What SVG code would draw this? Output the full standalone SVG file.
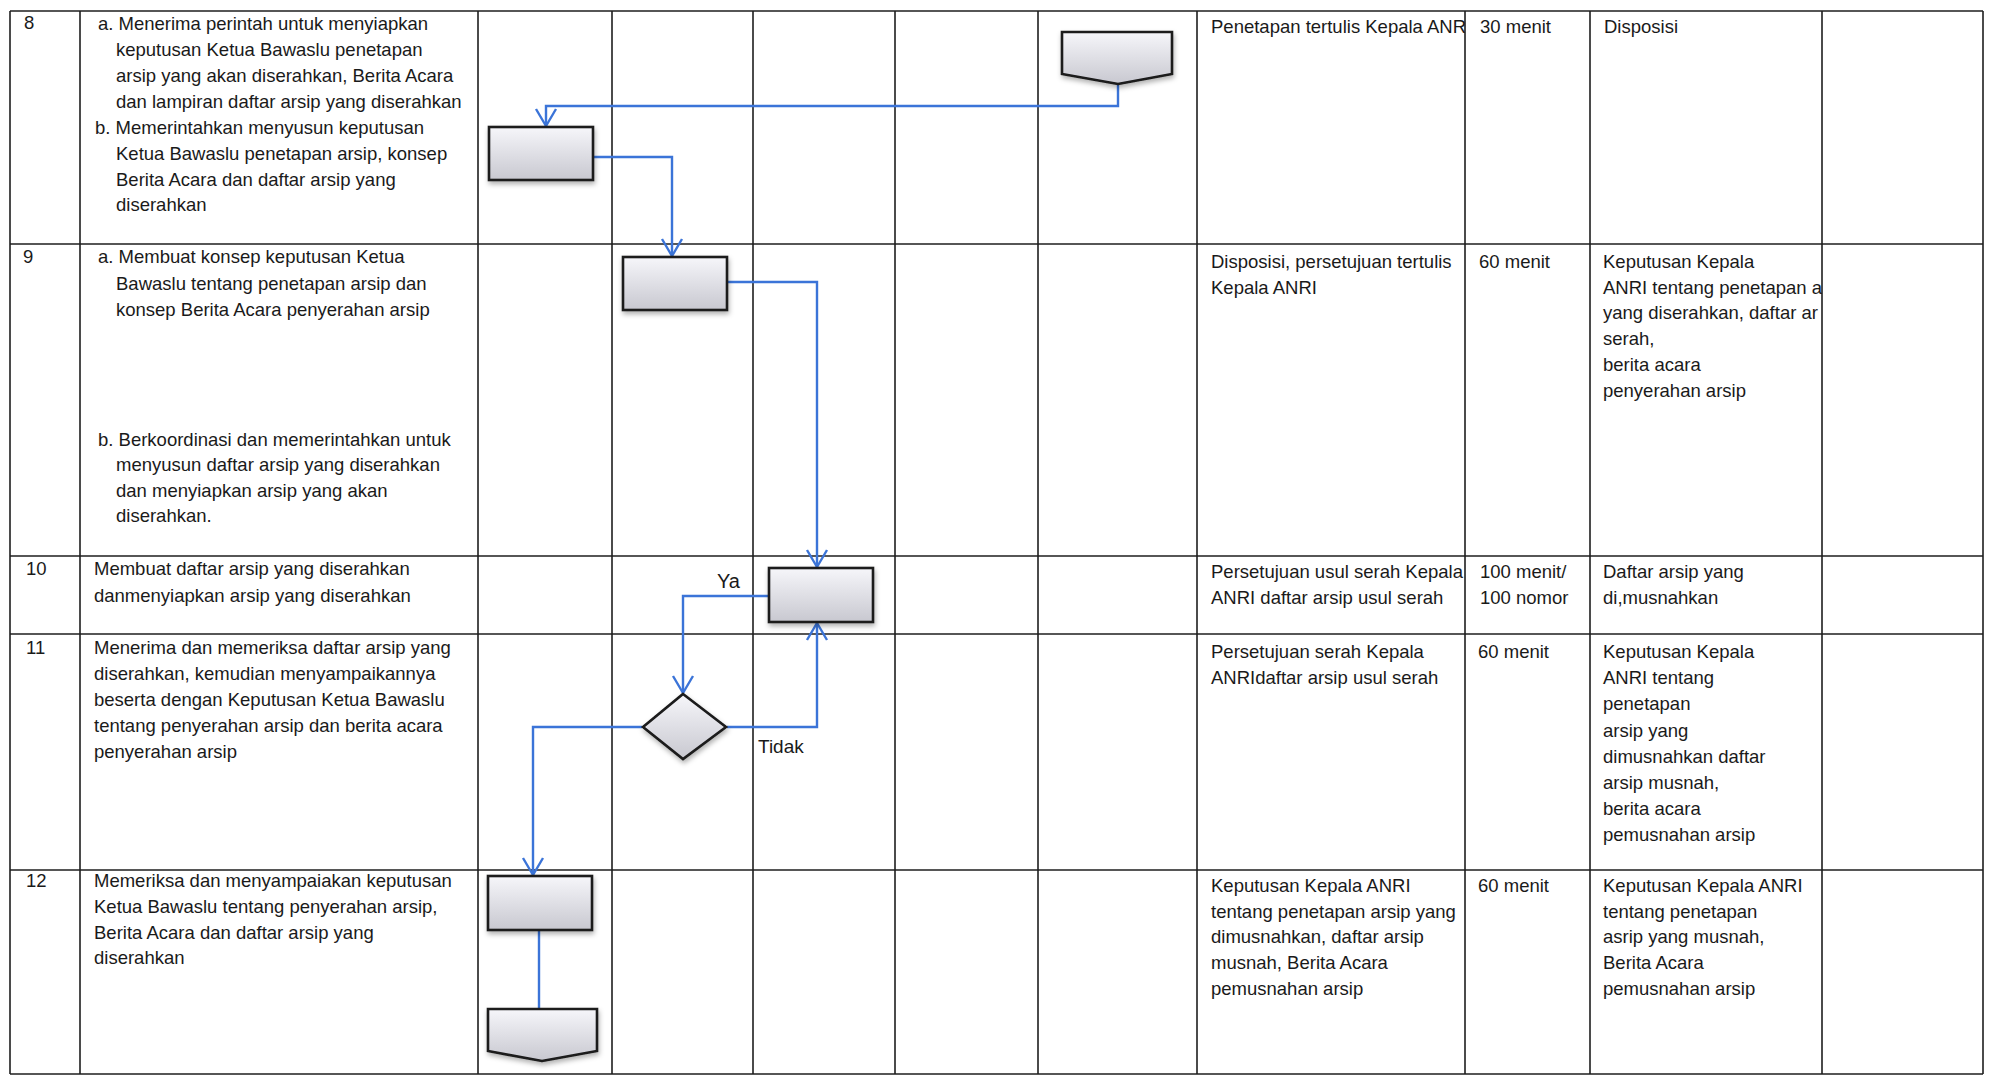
<svg xmlns="http://www.w3.org/2000/svg" width="1990" height="1076" viewBox="0 0 1990 1076">
<style>
.grid line{stroke:#1e1e1e;stroke-width:1.6}
text{font-family:"Liberation Sans",Arial,sans-serif;font-size:18.5px;fill:#1a1a1a}
.shape{fill:url(#g);stroke:#1a1a1a;stroke-width:2.6;filter:url(#sh)}
.con path{fill:none;stroke:#3b74d8;stroke-width:2.4}
.arr{marker-end:url(#ah)}
</style>
<defs>
<linearGradient id="g" x1="0" y1="0" x2="0" y2="1">
<stop offset="0" stop-color="#f6f6fa"/>
<stop offset="1" stop-color="#c8c8d0"/>
</linearGradient>
<filter id="sh" x="-20%" y="-20%" width="140%" height="150%">
<feDropShadow dx="1" dy="3" stdDeviation="2.5" flood-color="#000" flood-opacity="0.3"/>
</filter>
<marker id="ah" viewBox="-20 -12 23 24" markerWidth="23" markerHeight="24" refX="0" refY="0" orient="auto" markerUnits="userSpaceOnUse">
<path d="M-17,-10 L0,0 L-17,10" fill="none" stroke="#3b74d8" stroke-width="2.4"/>
</marker>
<clipPath id="clipA"><rect x="1199" y="12" width="266" height="230"/></clipPath>
<clipPath id="clipB"><rect x="1592" y="245" width="230" height="310"/></clipPath>
</defs>
<rect width="1990" height="1076" fill="#fff"/>
<g id="table" class="grid">
<line x1="10" y1="11" x2="1983" y2="11"/>
<line x1="10" y1="244" x2="1983" y2="244"/>
<line x1="10" y1="556" x2="1983" y2="556"/>
<line x1="10" y1="634" x2="1983" y2="634"/>
<line x1="10" y1="870" x2="1983" y2="870"/>
<line x1="10" y1="1074" x2="1983" y2="1074"/>
<line x1="10" y1="11" x2="10" y2="1074"/>
<line x1="80" y1="11" x2="80" y2="1074"/>
<line x1="478" y1="11" x2="478" y2="1074"/>
<line x1="612" y1="11" x2="612" y2="1074"/>
<line x1="753" y1="11" x2="753" y2="1074"/>
<line x1="895" y1="11" x2="895" y2="1074"/>
<line x1="1038" y1="11" x2="1038" y2="1074"/>
<line x1="1197" y1="11" x2="1197" y2="1074"/>
<line x1="1465" y1="11" x2="1465" y2="1074"/>
<line x1="1590" y1="11" x2="1590" y2="1074"/>
<line x1="1822" y1="11" x2="1822" y2="1074"/>
<line x1="1983" y1="11" x2="1983" y2="1074"/>
</g>
<g id="row-texts">
<text x="24" y="29">8</text>
<text x="98" y="30">a. Menerima perintah untuk menyiapkan</text>
<text x="116" y="56">keputusan Ketua Bawaslu penetapan</text>
<text x="116" y="82">arsip yang akan diserahkan, Berita Acara</text>
<text x="116" y="108">dan lampiran daftar arsip yang diserahkan</text>
<text x="95" y="134">b. Memerintahkan menyusun keputusan</text>
<text x="116" y="160">Ketua Bawaslu penetapan arsip, konsep</text>
<text x="116" y="186">Berita Acara dan daftar arsip yang</text>
<text x="116" y="211">diserahkan</text>
<g clip-path="url(#clipA)"><text x="1211" y="33">Penetapan tertulis Kepala ANR</text></g>
<text x="1480" y="33">30 menit</text>
<text x="1604" y="33">Disposisi</text>

<text x="23" y="263">9</text>
<text x="98" y="263">a. Membuat konsep keputusan Ketua</text>
<text x="116" y="290">Bawaslu tentang penetapan arsip dan</text>
<text x="116" y="316">konsep Berita Acara penyerahan arsip</text>
<text x="98" y="446">b. Berkoordinasi dan memerintahkan untuk</text>
<text x="116" y="471">menyusun daftar arsip yang diserahkan</text>
<text x="116" y="497">dan menyiapkan arsip yang akan</text>
<text x="116" y="522">diserahkan.</text>
<text x="1211" y="268">Disposisi, persetujuan tertulis</text>
<text x="1211" y="294">Kepala ANRI</text>
<text x="1479" y="268">60 menit</text>
<g clip-path="url(#clipB)">
<text x="1603" y="268">Keputusan Kepala</text>
<text x="1603" y="294">ANRI tentang penetapan a</text>
<text x="1603" y="319">yang diserahkan, daftar ar</text>
<text x="1603" y="345">serah,</text>
<text x="1603" y="371">berita acara</text>
<text x="1603" y="397">penyerahan arsip</text>
</g>

<text x="26" y="575">10</text>
<text x="94" y="575">Membuat daftar arsip yang diserahkan</text>
<text x="94" y="602">danmenyiapkan arsip yang diserahkan</text>
<text x="1211" y="578">Persetujuan usul serah Kepala</text>
<text x="1211" y="604">ANRI daftar arsip usul serah</text>
<text x="1480" y="578">100 menit/</text>
<text x="1480" y="604">100 nomor</text>
<text x="1603" y="578">Daftar arsip yang</text>
<text x="1603" y="604">di,musnahkan</text>

<text x="26" y="654">11</text>
<text x="94" y="654">Menerima dan memeriksa daftar arsip yang</text>
<text x="94" y="680">diserahkan, kemudian menyampaikannya</text>
<text x="94" y="706">beserta dengan Keputusan Ketua Bawaslu</text>
<text x="94" y="732">tentang penyerahan arsip dan berita acara</text>
<text x="94" y="758">penyerahan arsip</text>
<text x="1211" y="658">Persetujuan serah Kepala</text>
<text x="1211" y="684">ANRIdaftar arsip usul serah</text>
<text x="1478" y="658">60 menit</text>
<text x="1603" y="658">Keputusan Kepala</text>
<text x="1603" y="684">ANRI tentang</text>
<text x="1603" y="710">penetapan</text>
<text x="1603" y="737">arsip yang</text>
<text x="1603" y="763">dimusnahkan daftar</text>
<text x="1603" y="789">arsip musnah,</text>
<text x="1603" y="815">berita acara</text>
<text x="1603" y="841">pemusnahan arsip</text>

<text x="26" y="887">12</text>
<text x="94" y="887">Memeriksa dan menyampaiakan keputusan</text>
<text x="94" y="913">Ketua Bawaslu tentang penyerahan arsip,</text>
<text x="94" y="939">Berita Acara dan daftar arsip yang</text>
<text x="94" y="964">diserahkan</text>
<text x="1211" y="892">Keputusan Kepala ANRI</text>
<text x="1211" y="918">tentang penetapan arsip yang</text>
<text x="1211" y="943">dimusnahkan, daftar arsip</text>
<text x="1211" y="969">musnah, Berita Acara</text>
<text x="1211" y="995">pemusnahan arsip</text>
<text x="1478" y="892">60 menit</text>
<text x="1603" y="892">Keputusan Kepala ANRI</text>
<text x="1603" y="918">tentang penetapan</text>
<text x="1603" y="943">asrip yang musnah,</text>
<text x="1603" y="969">Berita Acara</text>
<text x="1603" y="995">pemusnahan arsip</text>
</g>
<g id="connectors" class="con">
<path class="arr" d="M1118,84 V106 H546 V126"/>
<path class="arr" d="M594,157 H672 V256"/>
<path class="arr" d="M728,282 H817 V567"/>
<path class="arr" d="M768,596 H683 V693"/>
<path class="arr" d="M727,727 H817 V623"/>
<path class="arr" d="M642,727 H533 V875"/>
<path d="M539,931 V1009"/>
</g>
<g id="labels">
<text x="717" y="588" style="font-size:20px">Ya</text>
<text x="758" y="753" style="font-size:19px">Tidak</text>
</g>
<g id="node-start"><path class="shape" d="M1062,32 H1172 V74 L1118,84 L1062,74 Z"/></g>
<g id="node-8"><rect class="shape" x="489" y="127" width="104" height="53"/></g>
<g id="node-9"><rect class="shape" x="623" y="257" width="104" height="53"/></g>
<g id="node-10"><rect class="shape" x="769" y="568" width="104" height="54"/></g>
<g id="node-11-decision"><path class="shape" d="M683,694 L726,727 L683,759 L643,727 Z"/></g>
<g id="node-12"><rect class="shape" x="488" y="876" width="104" height="54"/></g>
<g id="node-end"><path class="shape" d="M488,1009 H597 V1051 L542,1061 L488,1051 Z"/></g>
</svg>
